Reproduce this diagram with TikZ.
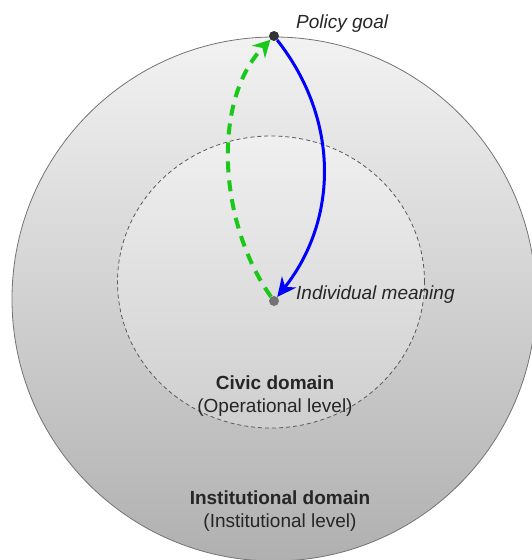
\documentclass[tikz,border=0pt]{standalone}
\usepackage{fontspec}
\setmainfont{Liberation Sans}
\usepackage{tikz}
\usetikzlibrary{arrows.meta, positioning, shapes.geometric}
\definecolor{pathgreen}{RGB}{25,200,25}
\tikzset{
  domainline/.style={draw=black!55, line width=0.8pt, inner sep=0pt},
  outerdomain/.style={domainline, circle, minimum size=524pt,
                      top color=black!5, bottom color=black!31},
  innerdomain/.style={domainline, ellipse, draw=black!65, dash pattern=on 4pt off 3pt,
                      minimum width=307pt, minimum height=292pt,
                      top color=black!6, bottom color=black!19},
  point/.style={circle, inner sep=0pt, minimum size=10pt},
  pointlabel/.style={font=\fontsize{19}{23}\selectfont\itshape, text=black!85, inner sep=0pt},
  domainlabel/.style={align=center, text=black!85, inner sep=0pt},
  goalarrow/.style={-{Stealth[length=19pt, width=18pt]}, line width=3pt, blue},
  backarrow/.style={-{Stealth[length=17pt, width=18pt]}, line width=4pt, pathgreen,
                    dash pattern=on 11pt off 8pt}
}

\begin{document}
\begin{tikzpicture}[x=1pt, y=-1pt, font=\fontsize{19}{23}\selectfont]
\useasboundingbox (0,0) rectangle (531,560);

% Domains
\node[outerdomain] (institutional) at (274,299) {};
\node[innerdomain] (civic) at (271,282) {};

% Points
\node[point, fill=black!80] (goal) at (274,36) {};
\node[point, fill=black!55] (meaning) at (274,301) {};

% Arrows
\draw[goalarrow] (goal) .. controls (340,120) and (338,220) .. (meaning);
\draw[backarrow] (meaning) .. controls (218,222) and (212,100) .. (goal);

% Labels
\node[pointlabel, anchor=base west] (goallbl) at (296,28) {Policy goal};
\node[pointlabel, anchor=base west] (meaninglbl) at (296,299) {Individual meaning};
\node[domainlabel] (civiclbl) at (275,396) {\textbf{Civic domain}\\(Operational level)};
\node[domainlabel] (instlbl) at (280,511) {\textbf{Institutional domain}\\(Institutional level)};

\end{tikzpicture}
\end{document}
